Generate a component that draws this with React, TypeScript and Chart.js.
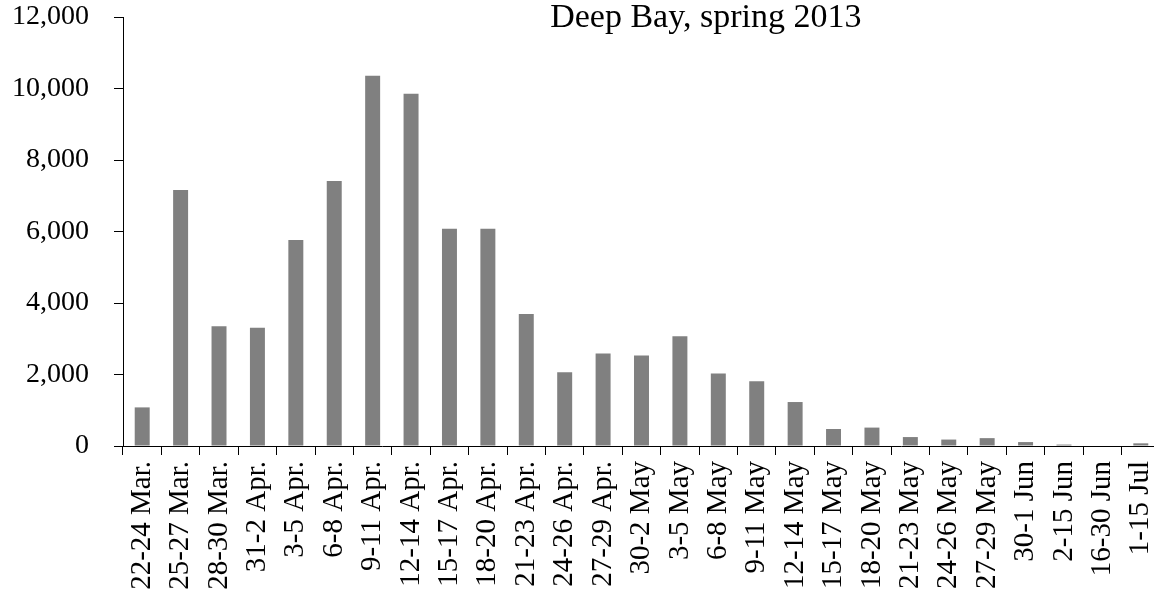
import React, { useEffect, useRef } from "react";
import { Chart, registerables } from "chart.js";

Chart.register(...registerables);

const categories: string[] = [
  "22-24 Mar.", "25-27 Mar.", "28-30 Mar.", "31-2 Apr.", "3-5 Apr.", "6-8 Apr.",
  "9-11 Apr.", "12-14 Apr.", "15-17 Apr.", "18-20 Apr.", "21-23 Apr.", "24-26 Apr.",
  "27-29 Apr.", "30-2 May", "3-5 May", "6-8 May", "9-11 May", "12-14 May",
  "15-17 May", "18-20 May", "21-23 May", "24-26 May", "27-29 May", "30-1 Jun",
  "2-15 Jun", "16-30 Jun", "1-15 Jul",
];

const counts: number[] = [
  1080, 7160, 3350, 3310, 5760, 7410,
  10360, 9850, 6080, 6080, 3690, 2060,
  2590, 2530, 3070, 2025, 1810, 1230,
  475, 515, 250, 180, 220, 110,
  40, 0, 75,
];

const yTicks: number[] = [0, 2000, 4000, 6000, 8000, 10000, 12000];
const titleText = "Deep Bay, spring 2013";

const FONT = "'Liberation Serif', 'Times New Roman', serif";

const titlePlugin = {
  id: "insideTitle",
  afterDraw(chart: any) {
    const { ctx, chartArea } = chart;
    ctx.save();
    ctx.font = `34px ${FONT}`;
    ctx.fillStyle = "#000";
    ctx.textAlign = "center";
    ctx.textBaseline = "alphabetic";
    const x = chartArea.left + (chartArea.right - chartArea.left) * 0.562;
    ctx.fillText(titleText, x, chartArea.top + 10);
    ctx.restore();
  },
};

export default function App() {
  const ref = useRef<HTMLCanvasElement | null>(null);

  useEffect(() => {
    if (!ref.current) return;
    const chart = new Chart(ref.current, {
      type: "bar",
      data: {
        labels: categories,
        datasets: [
          {
            data: counts,
            backgroundColor: "#808080",
            borderWidth: 0,
            barPercentage: 0.39,
            categoryPercentage: 1,
          },
        ],
      },
      options: {
        responsive: false,
        animation: false,
        devicePixelRatio: 1,
        layout: { padding: { top: 17, right: 0, left: 0, bottom: 0 } },
        plugins: {
          legend: { display: false },
          tooltip: { enabled: false },
          title: { display: false },
        },
        scales: {
          x: {
            type: "category",
            offset: true,
            grid: {
              offset: true,
              drawOnChartArea: false,
              drawTicks: true,
              tickLength: 9,
              tickColor: "#000",
              tickWidth: 1,
            },
            border: { color: "#000", width: 1 },
            ticks: {
              autoSkip: false,
              maxRotation: 90,
              minRotation: 90,
              padding: 6,
              color: "#000",
              font: { family: FONT, size: 29 },
            },
            afterFit(scale: any) {
              scale.height = 158;
              scale.paddingLeft = 0;
              scale.paddingRight = 0;
            },
          },
          y: {
            min: 0,
            max: 12000,
            afterBuildTicks(scale: any) {
              scale.ticks = yTicks.map((v) => ({ value: v }));
            },
            grid: {
              drawOnChartArea: false,
              drawTicks: true,
              tickLength: 9,
              tickColor: "#000",
              tickWidth: 1,
            },
            border: { color: "#000", width: 1 },
            ticks: {
              padding: 25,
              color: "#000",
              font: { family: FONT, size: 28 },
              callback: (v: any) => Number(v).toLocaleString("en-US"),
            },
            afterFit(scale: any) {
              scale.width = 123;
              scale.paddingTop = 0;
              scale.paddingBottom = 0;
            },
          },
        },
      },
      plugins: [titlePlugin],
    });
    return () => chart.destroy();
  }, []);

  return (
    <div
      style={{
        position: "fixed",
        left: 0,
        top: 0,
        width: 1154,
        height: 604,
        overflow: "hidden",
        background: "#fff",
      }}
    >
      <canvas ref={ref} width={1160} height={604} style={{ display: "block" }} />
    </div>
  );
}
